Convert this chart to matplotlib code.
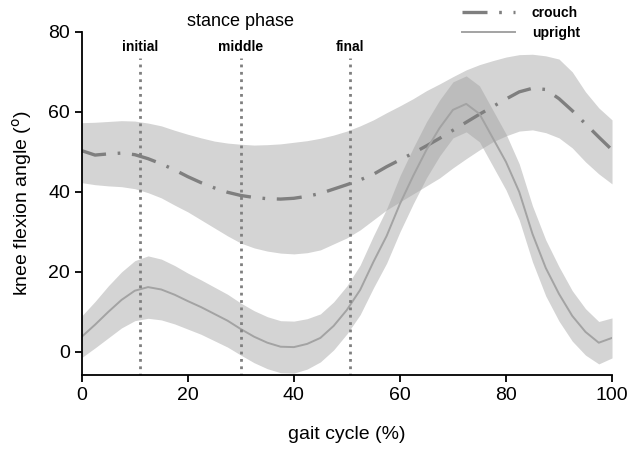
import numpy as np
import matplotlib.pyplot as plt

plt.rcParams['font.family'] = ['Liberation Sans', 'DejaVu Sans']

# gait cycle sampled every 2.5 %
gait = np.arange(0, 100.1, 2.5)

crouch_mean = [50.3, 49.2, 49.5, 49.7, 49.3, 48.3, 47.0, 45.5, 43.8, 42.3,
               41.0, 39.9, 39.1, 38.6, 38.3, 38.2, 38.4, 38.9, 39.6, 40.7,
               41.8, 43.0, 44.4, 46.3, 48.0, 49.7, 51.5, 53.4, 55.4, 57.4,
               59.4, 61.3, 63.2, 65.0, 65.9, 65.6, 63.3, 60.3, 57.0, 53.7, 50.5]
crouch_lo = [42.3, 41.8, 41.5, 41.3, 40.8, 39.8, 38.5, 36.7, 35.0, 33.0,
             31.0, 29.0, 27.2, 26.0, 25.2, 24.7, 24.5, 24.8, 25.5, 27.0,
             28.5, 30.5, 33.0, 35.5, 37.5, 39.5, 41.5, 43.5, 46.0, 48.3,
             50.5, 52.5, 54.0, 55.2, 55.5, 54.8, 53.5, 51.0, 47.5, 44.5, 42.0]
crouch_hi = [57.3, 57.4, 57.6, 57.8, 57.7, 57.2, 56.5, 55.4, 54.4, 53.5,
             52.7, 52.2, 51.9, 51.7, 51.8, 52.0, 52.4, 52.8, 53.4, 54.2,
             55.2, 56.5, 58.0, 59.8, 61.5, 63.3, 65.3, 67.0, 68.8, 70.5,
             71.8, 72.8, 73.7, 74.3, 74.4, 74.0, 73.2, 70.0, 65.0, 61.0, 58.0]

upright_mean = [3.8, 6.8, 10.0, 13.0, 15.3, 16.2, 15.6, 14.3, 12.7, 11.2,
                9.5, 7.8, 5.7, 3.8, 2.3, 1.3, 1.2, 2.0, 3.5, 6.5,
                10.5, 15.5, 22.5, 29.0, 37.0, 44.0, 50.5, 56.0, 60.5, 62.0,
                59.5, 53.5, 47.5, 40.0, 29.5, 21.0, 14.5, 9.0, 5.0, 2.3, 3.5]
upright_sd = [5.2, 5.8, 6.5, 7.0, 7.5, 7.8, 7.6, 7.3, 7.0, 6.8,
              6.7, 6.6, 6.5, 6.5, 6.5, 6.5, 6.5, 6.3, 6.0, 6.0,
              6.0, 6.2, 6.5, 6.8, 7.0, 7.0, 7.0, 7.0, 7.0, 7.0,
              7.0, 7.0, 7.0, 7.0, 7.0, 7.0, 6.8, 6.3, 5.8, 5.3, 5.0]

phase_x = [11, 30, 50.5]
phase_names = ['initial', 'middle', 'final']

upright_mean = np.array(upright_mean)
upright_sd = np.array(upright_sd)

fig = plt.figure(figsize=(6.29, 4.55), dpi=100)
ax = fig.add_axes([0.130, 0.176, 0.843, 0.754])

band = '#a0a0a0'
ax.fill_between(gait, crouch_lo, crouch_hi, color=band, alpha=0.45, lw=0)
ax.fill_between(gait, upright_mean - upright_sd, upright_mean + upright_sd,
                color=band, alpha=0.45, lw=0)

ax.plot(gait, crouch_mean, color='#7f7f7f', lw=2.4,
        dashes=(7.5, 3.5, 0.8, 3.5), label='crouch')
ax.plot(gait, upright_mean, color='#a3a3a3', lw=1.4, label='upright')

for px, name in zip(phase_x, phase_names):
    ax.plot([px, px], [-6, 73.5], color='#7f7f7f', lw=2, ls=':')
    ax.text(px, 76.3, name, ha='center', va='center', fontsize=10,
            fontweight='bold')
ax.text(30, 82.7, 'stance phase', ha='center', va='center', fontsize=13,
        clip_on=False)

ax.set_xlim(0, 100)
ax.set_ylim(-5.75, 80)
ax.set_xticks([0, 20, 40, 60, 80, 100])
ax.set_yticks([0, 20, 40, 60, 80])
ax.tick_params(labelsize=14, length=5, width=1.3)
ax.spines['top'].set_visible(False)
ax.spines['right'].set_visible(False)
ax.spines['left'].set_linewidth(1.3)
ax.spines['bottom'].set_linewidth(1.3)

ax.set_xlabel('gait cycle (%)', fontsize=14, labelpad=16)
ax.set_ylabel(r'knee flexion angle ($^{\rm o}$)', fontsize=14, labelpad=10)

fig.legend(loc='upper left', bbox_to_anchor=(0.715, 1.015), frameon=False,
           prop={'size': 10, 'weight': 'bold'}, handlelength=3.8,
           labelspacing=0.45, handletextpad=1.2)

fig.savefig('out.png', dpi=100)
